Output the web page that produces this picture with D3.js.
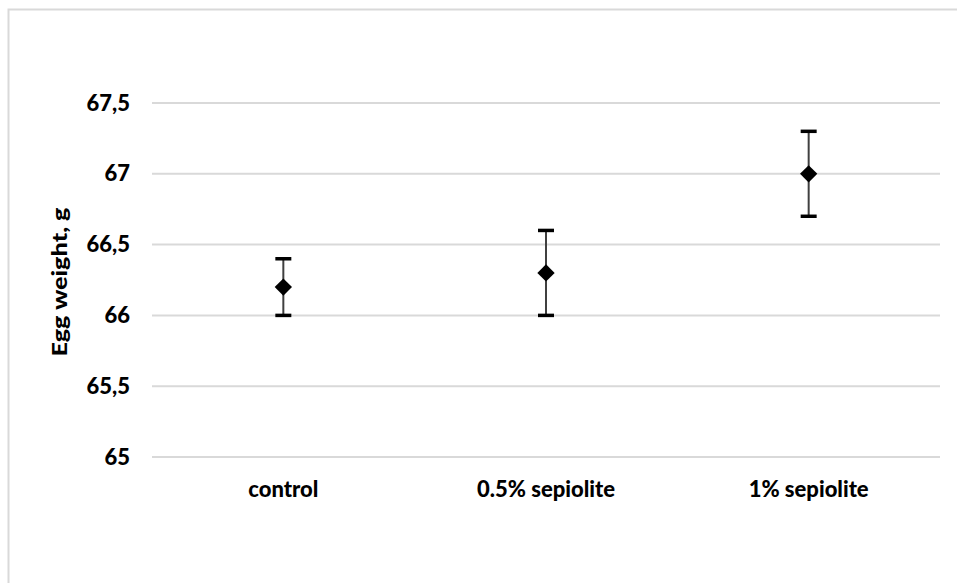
<!DOCTYPE html>
<html><head><meta charset="utf-8">
<script src="https://cdn.jsdelivr.net/npm/d3@7"></script>
<style>
html,body{margin:0;padding:0;background:#fff;}
svg text{font-family:Lato,"Open Sans",sans-serif;font-weight:900;fill:#000;}
</style></head>
<body><svg id="c" width="957" height="583"></svg>
<script>
const categories = ["control", "0.5% sepiolite", "1% sepiolite"];
const means = [66.2, 66.3, 67.0];
const upper = [66.4, 66.6, 67.3];
const lower = [66.0, 66.0, 66.7];
const yTicks = [65, 65.5, 66, 66.5, 67, 67.5];
const yTickLabels = ["65", "65,5", "66", "66,5", "67", "67,5"];
const yTitle = "Egg weight, g";

const svg = d3.select("#c");
const W = 957, H = 583;
const m = {left:152, right:17, top:103, bottom:126};

// outer chart border
svg.append("rect").attr("x",8.5).attr("y",9.5).attr("width",W+20).attr("height",H+20)
  .attr("fill","none").attr("stroke","#d9d9d9").attr("stroke-width",2);

const x = d3.scaleBand().domain(categories).range([m.left, W-m.right]);
const y = d3.scaleLinear().domain([65, 67.5]).range([H-m.bottom, m.top]);

// gridlines
svg.append("g").selectAll("line").data(yTicks).join("line")
  .attr("x1", m.left).attr("x2", W-m.right)
  .attr("y1", d=>y(d)).attr("y2", d=>y(d))
  .attr("stroke","#d9d9d9").attr("stroke-width",2);

// y tick labels
const yAxis = d3.axisLeft(y).tickValues(yTicks)
  .tickFormat((d,i)=>yTickLabels[i]).tickSize(0).tickPadding(22);
const ya = svg.append("g").attr("transform",`translate(${m.left},0)`).call(yAxis);
ya.select(".domain").remove();
ya.selectAll("text").style("font-size","22px").attr("fill","#000").attr("font-family",null);

// x labels
const xAxis = d3.axisBottom(x).tickSize(0).tickPadding(24);
const xa = svg.append("g").attr("transform",`translate(0,${y(65)})`).call(xAxis);
xa.select(".domain").remove();
xa.selectAll("text").style("font-size","22px").attr("fill","#000").attr("font-family",null);

// y title
svg.append("text").attr("transform",`translate(67,${(y(65)+y(67.5))/2 + 2}) rotate(-90)`)
  .attr("text-anchor","middle").style("font-size","21px")
  .attr("textLength",149).attr("lengthAdjust","spacingAndGlyphs").text(yTitle);

// error bars
const g = svg.append("g");
const cx = d => x(d) + x.bandwidth()/2;
g.selectAll(".wh").data(categories).join("line")
  .attr("x1",cx).attr("x2",cx)
  .attr("y1",(d,i)=>y(upper[i])).attr("y2",(d,i)=>y(lower[i]))
  .attr("stroke","#404040").attr("stroke-width",2);
const capW = 16;
[upper, lower].forEach(arr=>{
  g.selectAll(null).data(categories).join("line")
    .attr("x1",d=>cx(d)-capW/2).attr("x2",d=>cx(d)+capW/2)
    .attr("y1",(d,i)=>y(arr[i])).attr("y2",(d,i)=>y(arr[i]))
    .attr("stroke","#000").attr("stroke-width",3.5);
});
// diamond markers
const sym = d3.symbol().type(d3.symbolSquare).size(150);
g.selectAll(".pt").data(categories).join("path")
  .attr("d", sym())
  .attr("transform",(d,i)=>`translate(${cx(d)},${y(means[i])}) rotate(45)`)
  .attr("fill","#000");
</script></body></html>
